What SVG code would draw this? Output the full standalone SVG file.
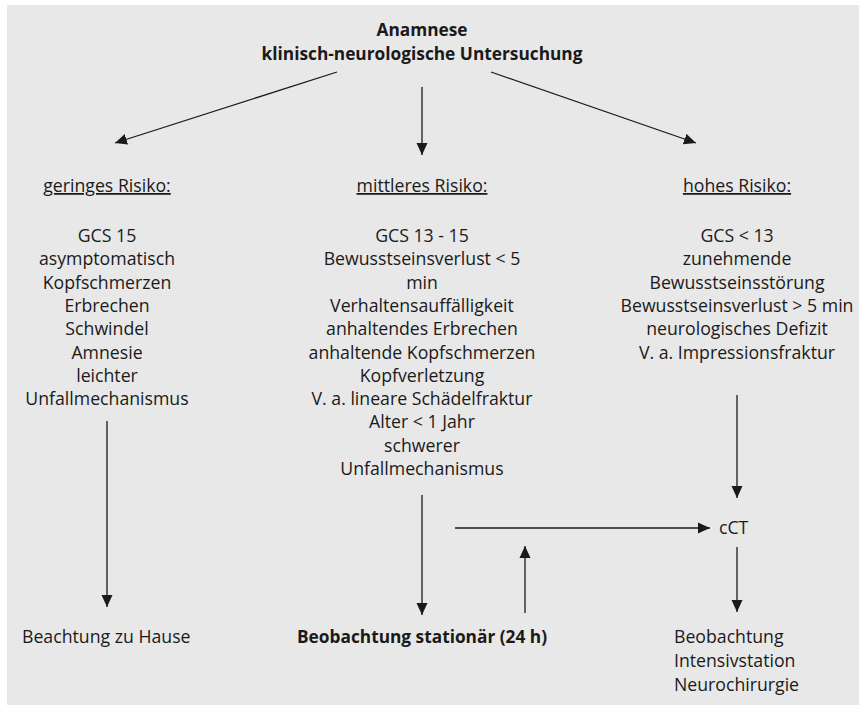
<svg xmlns="http://www.w3.org/2000/svg" width="859" height="705" viewBox="0 0 859 705">
<style>
text{font-family:"Open Sans","Liberation Sans",sans-serif;font-size:17.7px;fill:#1a1a1a}
.c{text-anchor:middle}
.b{font-weight:bold;font-size:17.3px}
.u{text-decoration:underline}
.ln{stroke:#1a1a1a;stroke-width:1.3;fill:none;marker-end:url(#ah)}
</style>
<defs>
<marker id="ah" markerUnits="userSpaceOnUse" markerWidth="12" markerHeight="12" refX="12" refY="6" orient="auto">
<path d="M0,0.5 L12,6 L0,11.5 z" fill="#1a1a1a"/>
</marker>
</defs>
<rect x="7" y="5" width="852" height="700" fill="#e8e8e8"/>
<g id="top">
<text class="c b" x="422" y="36">Anamnese</text>
<text class="c b" x="422" y="60">klinisch-neurologische Untersuchung</text>
</g>
<g id="low">
<text class="c u" x="107" y="192">geringes Risiko:</text>
<text class="c" x="107" y="242">GCS 15</text>
<text class="c" x="107" y="265.3">asymptomatisch</text>
<text class="c" x="107" y="288.6">Kopfschmerzen</text>
<text class="c" x="107" y="311.9">Erbrechen</text>
<text class="c" x="107" y="335.2">Schwindel</text>
<text class="c" x="107" y="358.5">Amnesie</text>
<text class="c" x="107" y="381.8">leichter</text>
<text class="c" x="107" y="405.1">Unfallmechanismus</text>
</g>
<g id="mid">
<text class="c u" x="422" y="192">mittleres Risiko:</text>
<text class="c" x="422" y="242">GCS 13 - 15</text>
<text class="c" x="422" y="265.3">Bewusstseinsverlust &lt; 5</text>
<text class="c" x="422" y="288.6">min</text>
<text class="c" x="422" y="311.9">Verhaltensauffälligkeit</text>
<text class="c" x="422" y="335.2">anhaltendes Erbrechen</text>
<text class="c" x="422" y="358.5">anhaltende Kopfschmerzen</text>
<text class="c" x="422" y="381.8">Kopfverletzung</text>
<text class="c" x="422" y="405.1">V. a. lineare Schädelfraktur</text>
<text class="c" x="422" y="428.4">Alter &lt; 1 Jahr</text>
<text class="c" x="422" y="451.7">schwerer</text>
<text class="c" x="422" y="475">Unfallmechanismus</text>
</g>
<g id="high">
<text class="c u" x="737" y="192">hohes Risiko:</text>
<text class="c" x="737" y="242">GCS &lt; 13</text>
<text class="c" x="737" y="265.3">zunehmende</text>
<text class="c" x="737" y="288.6">Bewusstseinsstörung</text>
<text class="c" x="737" y="311.9">Bewusstseinsverlust &gt; 5 min</text>
<text class="c" x="737" y="335.2">neurologisches Defizit</text>
<text class="c" x="737" y="358.5">V. a. Impressionsfraktur</text>
</g>
<g id="cct"><text x="719" y="534">cCT</text></g>
<g id="home"><text x="22" y="643">Beachtung zu Hause</text></g>
<g id="station"><text class="b" x="297" y="643">Beobachtung stationär (24 h)</text></g>
<g id="icu">
<text x="674" y="643">Beobachtung</text>
<text x="674" y="667">Intensivstation</text>
<text x="674" y="691">Neurochirurgie</text>
</g>
<g id="connectors">
<line class="ln" x1="337" y1="72" x2="115" y2="143"/>
<line class="ln" x1="422" y1="87" x2="422" y2="155"/>
<line class="ln" x1="491" y1="72" x2="696" y2="143"/>
<line class="ln" x1="107" y1="421" x2="107" y2="607"/>
<line class="ln" x1="422" y1="495" x2="422" y2="615"/>
<line class="ln" x1="737" y1="395" x2="737" y2="498"/>
<line class="ln" x1="455" y1="528" x2="710" y2="528"/>
<line class="ln" x1="525" y1="613" x2="525" y2="546"/>
<line class="ln" x1="737" y1="547" x2="737" y2="612"/>
</g>
</svg>
